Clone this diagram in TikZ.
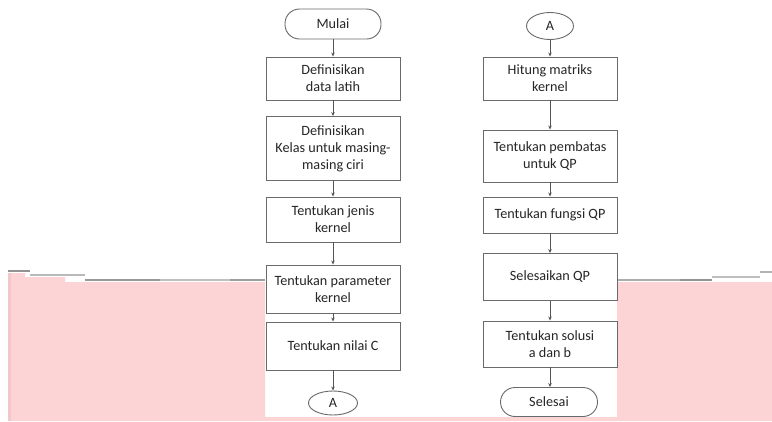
\documentclass[tikz,border=0pt]{standalone}
\usepackage{fontspec}
\setmainfont{Carlito}
\usetikzlibrary{shapes.geometric,arrows.meta}
\definecolor{pinkbg}{HTML}{FDD4D6}
\definecolor{pinkedge}{HTML}{F3C6CA}
\definecolor{txt}{HTML}{262626}
\definecolor{boxline}{HTML}{6A6A6A}
\tikzset{
  stepbox/.style={draw=boxline, line width=0.9pt, rectangle, minimum width=134pt, inner sep=0pt, align=center, text=txt, font=\fontsize{14.2}{17}\selectfont},
  termbox/.style={draw=boxline, line width=0.9pt, rectangle, rounded corners=14.5pt, inner sep=0pt, align=center, text=txt, font=\fontsize{14.2}{17}\selectfont},
  connbox/.style={draw=boxline, line width=0.9pt, ellipse, inner sep=0pt, align=center, text=txt, font=\fontsize{14.2}{17}\selectfont},
  flow/.style={draw=boxline!80!black, line width=0.8pt, -{Stealth[length=4pt,width=3.5pt]}}
}
\begin{document}
\begin{tikzpicture}[x=1pt,y=-1pt]
\useasboundingbox (0,0) rectangle (772,421);
\fill[white] (0,0) rectangle (772,421);
% pink background artefacts
\fill[pinkbg] (8,273) -- (25,273) -- (25,277) -- (65,277) -- (65,282) -- (265,282) -- (265,417) -- (617,417) -- (617,282) -- (772,282) -- (772,421) -- (8,421) -- cycle;
\fill[pinkedge] (8,273) rectangle (11,421);
\draw[line width=2pt, color=gray!85] (8,270.5) -- (30,270.5);
\draw[line width=2pt, color=gray!55] (30,274.5) -- (85,274.5);
\draw[line width=2pt, color=gray!80] (85,279.5) -- (160,279.5);
\draw[line width=2pt, color=gray!50] (160,279.5) -- (230,279.5);
\draw[line width=2pt, color=gray!75] (230,279.5) -- (265,279.5);
\draw[line width=2pt, color=gray!65] (617,279.5) -- (680,279.5);
\draw[line width=2pt, color=gray!85] (680,279.5) -- (712,279.5);
\draw[line width=2pt, color=gray!50] (712,277) -- (760,277);
\draw[line width=2pt, color=gray!60] (760,272) -- (772,272);
% left column
\node[termbox, minimum width=96pt, minimum height=30pt] (mulai) at (333,24) {Mulai};
\node[stepbox, minimum height=43pt] (b1) at (333,78.5) {Definisikan\\data latih};
\node[stepbox, minimum height=64pt] (b2) at (333,148.5) {Definisikan\\Kelas untuk masing-\\masing ciri};
\node[stepbox, minimum height=45pt] (b3) at (333,219.5) {Tentukan jenis\\kernel};
\node[stepbox, minimum height=48pt] (b4) at (333,289) {Tentukan parameter\\kernel};
\node[stepbox, minimum height=48pt] (b5) at (333,346) {Tentukan nilai C};
\node[connbox, minimum width=49pt, minimum height=24pt] (a1) at (333,403) {A};
% right column
\node[connbox, minimum width=47pt, minimum height=27pt] (a2) at (550,26) {A};
\node[stepbox, minimum height=43pt] (r1) at (550,78.5) {Hitung matriks\\kernel};
\node[stepbox, minimum height=52pt] (r2) at (550,156) {Tentukan pembatas\\untuk QP};
\node[stepbox, minimum height=36pt] (r3) at (550,215) {Tentukan fungsi QP};
\node[stepbox, minimum height=47pt] (r4) at (550,277) {Selesaikan QP};
\node[stepbox, minimum height=46pt] (r5) at (550,344) {Tentukan solusi\\a dan b};
\node[termbox, minimum width=97pt, minimum height=29pt] (selesai) at (549,402) {Selesai};
% connectors
\draw[flow] (mulai) -- (b1);
\draw[flow] (b1) -- (b2);
\draw[flow] (b2) -- (b3);
\draw[flow] (b3) -- (b4);
\draw[flow] (b4) -- (b5);
\draw[flow] (b5) -- (a1);
\draw[flow] (a2) -- (r1);
\draw[flow] (r1) -- (r2);
\draw[flow] (r2) -- (r3);
\draw[flow] (r3) -- (r4);
\draw[flow] (r4) -- (r5);
\draw[flow] (r5) -- (selesai.north -| r5);
\end{tikzpicture}
\end{document}
